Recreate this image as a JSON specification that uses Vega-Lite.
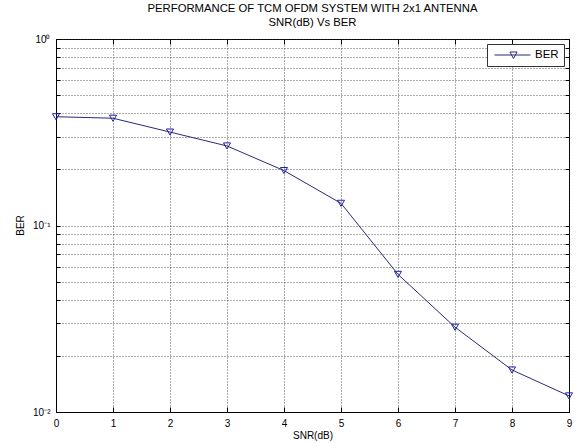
{
  "$schema": "https://vega.github.io/schema/vega-lite/v6.json",
  "width": 513,
  "height": 373,
  "autosize": {"type": "none"},
  "padding": {"left": 56, "top": 39, "right": 7, "bottom": 31},
  "background": "white",
  "title": {
    "text": ["PERFORMANCE OF TCM OFDM SYSTEM WITH 2x1 ANTENNA", "SNR(dB) Vs BER"],
    "anchor": "middle",
    "frame": "group",
    "font": "Liberation Sans",
    "fontSize": 11.3,
    "fontWeight": "normal",
    "color": "#000000",
    "lineHeight": 14,
    "offset": 6
  },
  "data": {
    "values": [
      {"snr": 0, "ber": 0.383},
      {"snr": 1, "ber": 0.376},
      {"snr": 2, "ber": 0.317},
      {"snr": 3, "ber": 0.267},
      {"snr": 4, "ber": 0.197},
      {"snr": 5, "ber": 0.1315},
      {"snr": 6, "ber": 0.0547},
      {"snr": 7, "ber": 0.0285},
      {"snr": 8, "ber": 0.0168},
      {"snr": 9, "ber": 0.0122}
    ]
  },
  "config": {
    "view": {"stroke": "#000000", "strokeWidth": 1},
    "axis": {
      "labelFont": "Liberation Sans",
      "titleFont": "Liberation Sans",
      "labelFontSize": 10,
      "titleFontSize": 10,
      "titleFontWeight": "normal",
      "labelColor": "#000000",
      "titleColor": "#000000",
      "domainColor": "#000000",
      "tickColor": "#000000",
      "gridColor": "#333333",
      "gridDash": [1, 2],
      "gridOpacity": 0.8,
      "gridWidth": 1
    },
    "legend": {
      "labelFont": "Liberation Sans",
      "labelFontSize": 11.5,
      "labelColor": "#000000"
    }
  },
  "layer": [
    {
      "mark": {"type": "line", "strokeWidth": 1},
      "encoding": {
        "x": {
          "field": "snr",
          "type": "quantitative",
          "scale": {"domain": [0, 9], "nice": false, "zero": false},
          "axis": {
            "orient": "bottom",
            "title": "SNR(dB)",
            "values": [0, 1, 2, 3, 4, 5, 6, 7, 8, 9],
            "tickSize": -5,
            "labelPadding": 11,
            "titlePadding": 2,
            "grid": true,
            "labelFlush": false
          }
        },
        "y": {
          "field": "ber",
          "type": "quantitative",
          "scale": {"type": "log", "domain": [0.01, 1], "nice": false},
          "axis": {
            "orient": "left",
            "title": "BER",
            "values": [0.01, 0.02, 0.03, 0.04, 0.05, 0.06, 0.07, 0.08, 0.09, 0.1, 0.2, 0.3, 0.4, 0.5, 0.6, 0.7, 0.8, 0.9, 1],
            "labelExpr": "datum.value == 1 ? '10⁰' : datum.value == 0.1 ? '10⁻¹' : datum.value == 0.01 ? '10⁻²' : ''",
            "tickSize": -4,
            "labelPadding": 10,
            "titleX": -36,
            "titleY": 186,
            "titleAngle": -90,
            "titleAlign": "center",
            "titleBaseline": "middle",
            "grid": true,
            "labelFlush": false
          }
        },
        "color": {
          "datum": "BER",
          "type": "nominal",
          "scale": {"range": ["#2a2a78"]},
          "legend": {
            "title": null,
            "orient": "top-right",
            "offset": 5,
            "symbolType": "M-0.636,0L5.909,0M2.163,-0.55L3.473,-0.55L2.818,0.64Z",
            "symbolSize": 121,
            "symbolStrokeWidth": 1,
            "symbolFillColor": "transparent",
            "fillColor": "white",
            "strokeColor": "#333333",
            "padding": 5,
            "labelOffset": 31
          }
        }
      }
    },
    {
      "mark": {"type": "point", "shape": "triangle-down", "filled": false, "size": 50, "strokeWidth": 1, "color": "#2020a8", "opacity": 1},
      "encoding": {
        "x": {
          "field": "snr",
          "type": "quantitative",
          "axis": {"orient": "top", "title": null, "labels": false, "grid": false, "values": [0, 1, 2, 3, 4, 5, 6, 7, 8, 9], "tickSize": -5, "domain": false}
        },
        "y": {
          "field": "ber",
          "type": "quantitative",
          "axis": {"orient": "right", "title": null, "labels": false, "grid": false, "values": [0.01, 0.02, 0.03, 0.04, 0.05, 0.06, 0.07, 0.08, 0.09, 0.1, 0.2, 0.3, 0.4, 0.5, 0.6, 0.7, 0.8, 0.9, 1], "tickSize": -4, "domain": false}
        }
      }
    }
  ],
  "resolve": {"axis": {"x": "independent", "y": "independent"}}
}
